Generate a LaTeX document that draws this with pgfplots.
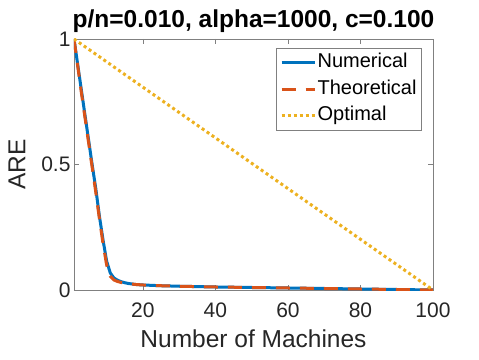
\documentclass[border=0pt]{standalone}
\usepackage{fontspec}
\setmainfont{Liberation Sans}
\usepackage{pgfplots}
\pgfplotsset{compat=1.18}

\definecolor{mblue}{RGB}{0,114,189}
\definecolor{morange}{RGB}{217,83,25}
\definecolor{myellow}{RGB}{237,177,32}
\definecolor{axgray}{RGB}{128,128,128}
\definecolor{txt}{RGB}{38,38,38}

\begin{document}
\begin{tikzpicture}
\begin{axis}[
  name=ax,
  scale only axis, width=359pt, height=251pt,
  xmin=1, xmax=100, ymin=0, ymax=1,
  xtick={20,40,60,80,100}, ytick={0,0.5,1},
  yticklabels={0,0.5,1},
  tick align=inside, tick pos=both, major tick length=5pt,
  axis line style={axgray, line width=0.6pt},
  every tick/.style={axgray, line width=0.6pt},
  /pgf/number format/assume math mode=true,
  tick label style={font=\fontsize{21}{21}\selectfont, text=txt},
  xticklabel style={yshift=-9pt},
  label style={font=\fontsize{24.5}{24.5}\selectfont, text=txt},
  xlabel={Number of Machines}, ylabel={ARE},
  xlabel style={yshift=-5pt},
  ylabel style={yshift=9pt},
  title={p/n=0.010, alpha=1000, c=0.100},
  title style={font=\bfseries\fontsize{24.5}{24.5}\selectfont, yshift=-3pt},
  legend style={at={(0.969,0.964)}, anchor=north east, draw=axgray, line width=0.6pt,
    font=\fontsize{20}{22}\selectfont, text=black, inner xsep=3.5pt, inner ysep=3pt,
    nodes={inner xsep=1.5pt, inner ysep=1.5pt, text height=15pt, text depth=5pt},
    row sep=3.5pt},
  legend cell align=left,
  legend image code/.code={\draw[#1] (0pt,0pt) -- (33pt,0pt);},
]
\addplot[mblue, line width=3pt] coordinates {
  (1,1)(2,0.9)(3,0.8)(4,0.7)(5,0.6)(6,0.5)(7,0.405)(8,0.295)(9,0.20)(10,0.115)
  (11,0.068)(12,0.048)(13,0.039)(14,0.033)(15,0.029)(16,0.026)(18,0.022)(20,0.020)
  (25,0.017)(30,0.015)(40,0.012)(50,0.010)(60,0.008)(70,0.006)(80,0.004)(90,0.002)(100,0)};
\addlegendentry{Numerical}
\addplot[morange, line width=3pt, dash pattern=on 14pt off 10pt] coordinates {
  (1,1)(2,0.895)(3,0.79)(4,0.69)(5,0.59)(6,0.49)(7,0.39)(8,0.285)(9,0.185)(10,0.10)
  (11,0.055)(12,0.040)(13,0.034)(14,0.030)(15,0.027)(16,0.025)(18,0.022)(20,0.020)
  (25,0.017)(30,0.015)(40,0.012)(50,0.010)(60,0.008)(70,0.006)(80,0.004)(90,0.002)(100,0)};
\addlegendentry{Theoretical}
\addplot[myellow, line width=3pt, dash pattern=on 3pt off 3pt] coordinates {(1,1)(100,0)};
\addlegendentry{Optimal}
\end{axis}
\path (ax.south west) ++(-74pt,-69pt) rectangle ++(479pt,359pt);
\end{tikzpicture}
\end{document}
